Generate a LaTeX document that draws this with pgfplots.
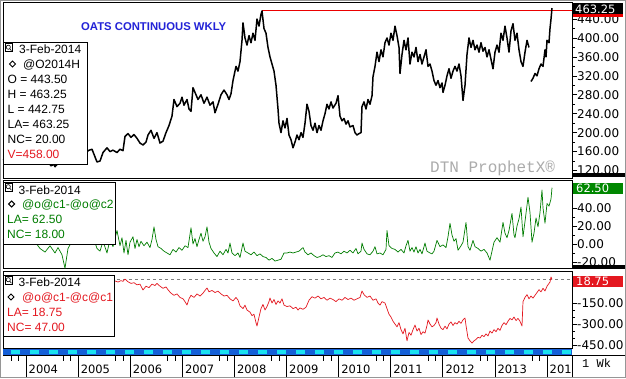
\documentclass[border=0pt]{standalone}
\usepackage{pgfplots}
\pgfplotsset{compat=1.18}
\usepackage{fontspec}
\setmainfont{Liberation Sans}
\newfontfamily\dejavu{DejaVu Sans}
\newfontfamily\mono{Liberation Mono}
\definecolor{titleblue}{RGB}{35,35,215}
\definecolor{lgreen}{RGB}{0,125,0}
\definecolor{boxgreen}{RGB}{0,135,0}
\definecolor{lred}{RGB}{228,24,32}
\definecolor{hred}{RGB}{235,0,0}
\definecolor{bandblue}{RGB}{20,95,215}
\definecolor{bandcyan}{RGB}{25,225,240}
\definecolor{framegray}{RGB}{150,150,150}
\newcommand{\px}[1]{\fontsize{#1}{#1}\selectfont}
\begin{document}
\begin{tikzpicture}[x=1pt,y=1pt]
\useasboundingbox (0,0) rectangle (626,378);
\fill[white] (0,0) rectangle (626,378);
\pgfplotsset{panel/.style={anchor=south west, at={(3pt,#1pt)}, scale only axis, width=569pt,
  xmin=-23, xmax=546, xtick=\empty, axis line style={black, line width=0.8pt},
  ytick pos=right, yticklabel pos=right, tick align=outside,
  major tick length=5pt, minor tick length=3pt, tick style={black, line width=0.6pt},
  yticklabel style={font=\dejavu\px{12}, anchor=west, inner sep=0pt},
  yticklabel={\pgfmathprintnumber[fixed,fixed zerofill,precision=2,assume math mode=true]{\tick}},
  }}
% ---------- top panel: oats continuous weekly ----------
\begin{axis}[panel=200, height=176pt, ymin=104.2, ymax=476, ytick={120,160,...,440}, minor y tick num=1]
\addplot[hred, line width=1pt] coordinates {(236,457) (546,457)};
\addplot[black, line width=1.5pt, line join=round] coordinates {
(-23,142)(-20,148)(-17,140)(-14,150)(-11,145)(-8,152)(-5,147)(-2,155)(1,150)(4,158)(7,152)(10,160)(13,148)(16,142)(19,135)(22,138)(25,130)(28,133)(29,128)(32,135)(35,140)(38,136)(41,142)(44,150)(47,145)(50,152)(53,148)(56,155)(59,150)(62,162)(66,165)(71,138)(74,140)(77,158)(81,168)(84,160)(87,163)(91,158)(94,165)(97,162)(99,192)(102,198)(105,190)(108,196)(111,188)(114,178)(117,174)(120,180)(122,195)(125,205)(128,188)(131,200)(134,178)(137,182)(140,200)(143,215)(146,235)(148,270)(151,255)(154,262)(156,275)(158,258)(161,270)(163,250)(165,245)(167,295)(169,285)(172,270)(175,280)(178,262)(181,275)(184,258)(187,265)(189,242)(192,260)(195,280)(198,290)(201,280)(203,270)(205,282)(207,310)(210,340)(212,330)(214,350)(216,395)(217,432)(219,400)(221,385)(223,405)(225,390)(227,410)(229,395)(231,440)(233,425)(235,450)(236,457)(238,420)(240,410)(242,380)(244,360)(246,345)(248,330)(250,300)(251,275)(252,250)(253,220)(255,200)(257,225)(259,210)(261,230)(263,195)(265,185)(267,168)(269,180)(271,195)(273,185)(275,200)(277,190)(279,220)(281,260)(283,245)(285,215)(287,205)(289,220)(291,200)(293,215)(295,205)(297,225)(299,240)(301,260)(303,250)(305,265)(307,252)(310,262)(312,278)(314,235)(316,225)(318,230)(320,218)(322,225)(324,212)(327,215)(329,200)(331,195)(333,198)(335,200)(336,255)(338,265)(340,250)(342,270)(344,260)(346,278)(347,318)(349,340)(351,370)(353,350)(355,375)(357,360)(359,390)(361,400)(363,385)(365,410)(367,395)(369,425)(371,405)(373,380)(374,325)(376,365)(378,395)(380,375)(382,400)(384,345)(386,370)(388,360)(390,380)(392,350)(394,365)(396,345)(398,360)(400,375)(402,340)(404,345)(406,330)(408,310)(410,300)(412,310)(414,295)(416,305)(417,285)(419,300)(421,320)(423,335)(425,315)(427,330)(429,340)(431,330)(433,345)(435,320)(437,268)(439,300)(441,365)(443,400)(445,380)(447,395)(449,375)(451,385)(453,370)(455,390)(457,372)(459,380)(461,360)(463,375)(465,355)(467,335)(469,370)(471,385)(473,370)(475,410)(477,395)(479,425)(481,400)(483,370)(485,415)(487,430)(489,395)(491,410)(493,375)(495,350)(497,340)(499,370)(501,395)(503,380)
};
\addplot[black, line width=1.5pt, line join=round] coordinates {
(505,308)(507,315)(509,325)(511,320)(513,335)(515,345)(517,340)(519,375)(520,360)(521,395)(523,390)(524,420)(525,440)(526,463.25)
};
\end{axis}
% ---------- middle panel: @o@c1-@o@c2 ----------
\begin{axis}[panel=110, height=88pt, ymin=-26.7, ymax=71.1, ytick={-20,0,20,40}, minor y tick num=1]
\addplot[lgreen, line width=0.7pt, line join=round] coordinates {
(-23,5)(-20,2)(-17,8)(-14,3)(-11,6)(-8,1)(-5,4)(-2,0)(1,7)(4,2)(7,5)(10,1)(14,-5)(19,-9)(24,-2)(29,-10)(32,-4)(36,-12)(39,-27)(42,-5)(46,3)(50,8)(54,2)(58,10)(62,4)(66,12)(71,-5)(74,-8)(77,3)(81,-10)(84,5)(87,-3)(91,15)(94,-2)(96,7)(98,-10)(100,4)(102,-12)(104,2)(107,8)(109,-5)(111,5)(113,-3)(115,3)(118,-2)(121,2)(124,-4)(126,5)(128,19)(130,5)(132,-3)(135,-5)(138,-8)(141,-10)(144,-12)(147,-6)(150,-9)(153,-4)(156,-7)(159,-2)(162,-4)(165,18)(167,0)(169,6)(171,-3)(173,5)(175,12)(177,3)(179,8)(181,19)(183,2)(185,-5)(188,-10)(191,-14)(194,-8)(197,-12)(200,-6)(202,-10)(204,1)(206,-10)(209,-13)(212,-10)(214,-15)(217,1)(219,-8)(222,-10)(225,-12)(228,-9)(231,-13)(234,-11)(237,-14)(240,-15)(243,-18)(246,-16)(249,-19)(252,-18)(255,-17)(258,-10)(261,-10)(264,-9)(267,-10)(270,-9)(273,-8)(277,-4)(279,-9)(282,-12)(285,-10)(288,-13)(291,-15)(294,-14)(297,-12)(300,-14)(303,-13)(306,-15)(309,-10)(312,-9)(315,-11)(318,-8)(321,-10)(324,-7)(327,-10)(330,-5)(332,-11)(335,-8)(336,1)(338,-6)(341,-11)(344,-12)(347,-8)(349,-3)(351,-11)(354,-10)(357,-12)(360,-6)(361,15)(363,-2)(366,-5)(369,-6)(372,-9)(375,-6)(378,-10)(380,-2)(382,4)(384,-8)(386,-4)(388,-9)(390,-3)(392,-10)(394,-6)(396,-11)(399,1)(401,-8)(404,-10)(406,-11)(408,-8)(411,4)(414,-3)(417,-1)(420,-4)(422,8)(424,23)(426,10)(428,3)(430,6)(432,-7)(435,-2)(437,2)(440,24)(442,-3)(444,-7)(447,4)(449,-3)(452,-5)(455,-8)(458,-6)(461,-10)(464,-18)(466,-8)(468,2)(471,7)(474,2)(477,24)(479,12)(481,7)(483,15)(486,34)(488,10)(489,7)(491,20)(493,28)(495,41)(497,8)(499,25)(502,52)(504,35)(506,2)(508,12)(510,29)(512,19)(514,35)(516,60)(517,40)(519,23)(521,45)(523,42)(525,50)(526,62.5)
};
\end{axis}
% ---------- bottom panel: @o@c1-@c@c1 ----------
\begin{axis}[panel=30, height=77pt, ymin=-471, ymax=78.6, ytick={-450,-300,-150}, minor y tick num=2]
\addplot[gray, dashed, line width=0.6pt] coordinates {(-23,18.75) (546,18.75)};
\addplot[lred, line width=0.7pt, line join=round] coordinates {
(-23,-60)(-18,-45)(-12,-70)(-6,-50)(0,-40)(6,-65)(12,-30)(18,-45)(24,-20)(30,-35)(36,-15)(42,-30)(48,-10)(54,-25)(60,-5)(66,-20)(72,0)(78,-12)(84,5)(89,7)(92,0)(95,10)(97,5)(99,21)(102,2)(105,-10)(108,-5)(111,-20)(114,-15)(117,-57)(120,-30)(123,-40)(126,-15)(129,-25)(131,-10)(134,-30)(137,-45)(140,-35)(142,-55)(145,-80)(148,-95)(151,-85)(154,-110)(157,-120)(159,-140)(161,-164)(163,-120)(165,-95)(168,-110)(171,-85)(174,-100)(177,-80)(179,-60)(181,-43)(183,-70)(186,-60)(189,-75)(192,-65)(195,-85)(198,-100)(201,-95)(204,-120)(207,-135)(210,-110)(212,-129)(214,-170)(217,-190)(219,-165)(221,-200)(224,-215)(226,-240)(228,-230)(230,-290)(231,-314)(233,-250)(235,-190)(237,-160)(239,-200)(241,-175)(243,-140)(244,-114)(246,-150)(248,-125)(250,-160)(252,-135)(254,-150)(256,-120)(258,-165)(261,-175)(264,-170)(267,-190)(270,-180)(272,-200)(274,-185)(277,-195)(280,-180)(283,-130)(286,-105)(289,-115)(292,-100)(295,-120)(298,-110)(301,-130)(304,-115)(307,-125)(310,-140)(313,-120)(316,-130)(319,-110)(322,-125)(325,-115)(328,-130)(331,-120)(334,-110)(336,-64)(338,-90)(341,-110)(344,-100)(347,-130)(350,-120)(352,-150)(354,-165)(356,-140)(359,-150)(361,-190)(363,-230)(365,-250)(367,-280)(369,-300)(371,-320)(373,-290)(375,-340)(377,-370)(379,-330)(381,-420)(383,-360)(385,-380)(387,-340)(389,-307)(391,-350)(393,-330)(395,-375)(397,-355)(399,-365)(401,-310)(402,-271)(404,-300)(406,-320)(408,-310)(410,-290)(411,-257)(413,-300)(415,-330)(417,-340)(419,-315)(421,-335)(423,-300)(425,-285)(427,-310)(429,-290)(431,-300)(433,-280)(435,-295)(437,-270)(439,-257)(440,-310)(442,-400)(444,-420)(446,-436)(448,-420)(450,-410)(452,-395)(454,-400)(456,-380)(458,-390)(460,-370)(462,-385)(464,-350)(466,-365)(468,-340)(470,-355)(472,-330)(474,-345)(476,-310)(478,-290)(480,-305)(482,-280)(484,-260)(486,-270)(488,-250)(490,-275)(492,-260)(494,-280)(496,-314)(497,-140)(499,-110)(501,-90)(503,-120)(505,-100)(507,-115)(509,-95)(511,-75)(513,-55)(515,-70)(517,-45)(519,-64)(521,-30)(523,-10)(524,0)(525,36)(526,18.75)
};
\end{axis}
% ---------- title and watermark ----------
\node[anchor=base west, inner sep=0, font=\bfseries\px{11.3}, text=titleblue] at (81,378-30.7) {OATS CONTINUOUS WKLY};
\node[anchor=base west, inner sep=0, font=\mono\px{16}, text=black!33] at (430,378-172.5) {DTN ProphetX®};
% ---------- legend boxes ----------
\newcommand{\magicon}[2]{\draw[black, line width=0.6pt] (#1,#2) rectangle ++(7,-8); \draw[black, line width=0.6pt] (#1+3.3,#2-3.7) circle (2.1); \draw[black, line width=0.6pt] (#1+4.8,#2-5.2) -- (#1+6.4,#2-7.2);}
\newcommand{\dmd}[2]{\draw[black, line width=1pt] (#1,#2+3) -- (#1+3,#2) -- (#1,#2-3) -- (#1-3,#2) -- cycle;}
% top
\draw[black, fill=white, line width=0.8pt] (3.3,378-42.3) rectangle (87.5,378-164);
\magicon{5}{378-43.5}
\dmd{12.5}{378-64}
\begin{scope}[every node/.style={anchor=base west, inner sep=0, font=\px{12}}]
\node at (19,378-54) {3-Feb-2014};
\node at (23,378-69) {@O2014H};
\node at (7.5,378-84) {O = 443.50};
\node at (7.5,378-99) {H = 463.25};
\node at (7.5,378-114) {L = 442.75};
\node at (7.5,378-129) {LA= 463.25};
\node at (7.5,378-144) {NC= 20.00};
\node[text=lred] at (7.5,378-159) {V=458.00};
\end{scope}
% middle
\draw[black, fill=white, line width=0.8pt] (3.3,378-182) rectangle (115,378-244.5);
\magicon{5}{378-183}
\dmd{11.7}{378-204}
\begin{scope}[every node/.style={anchor=base west, inner sep=0, font=\px{12}}]
\node at (18.5,378-194) {3-Feb-2014};
\node[text=lgreen] at (22,378-208.5) {@o@c1-@o@c2};
\node[text=lgreen] at (7,378-223) {LA= 62.50};
\node[text=lgreen] at (7,378-238) {NC= 18.00};
\end{scope}
% bottom
\draw[black, fill=white, line width=0.8pt] (3.3,378-275) rectangle (114,378-336);
\magicon{5}{378-276}
\dmd{11}{378-297}
\begin{scope}[every node/.style={anchor=base west, inner sep=0, font=\px{12}}]
\node at (18.5,378-286) {3-Feb-2014};
\node[text=lred] at (22,378-301) {@o@c1-@c@c1};
\node[text=lred] at (7,378-316) {LA= 18.75};
\node[text=lred] at (7,378-331) {NC= 47.00};
\end{scope}
% ---------- value tags ----------
\fill[black] (573,378-3) rectangle (623,378-14.5);
\fill[hred] (573,378-14.5) rectangle (623,378-17);
\node[anchor=base west, inner sep=0, font=\dejavu\px{11.5}, text=white] at (575,378-13.3) {463.25};
\fill[boxgreen] (573,378-183) rectangle (623,378-193.5);
\node[anchor=base west, inner sep=0, font=\dejavu\px{11.5}, text=white] at (576,378-192.3) {62.50};
\fill[lred] (573,378-276) rectangle (623,378-286.5);
\node[anchor=base west, inner sep=0, font=\dejavu\px{11.5}, text=white] at (576,378-285.3) {18.75};
% ---------- panel separators on the right ----------
\fill[black] (572,378-173.3) rectangle (626,378-177);
\fill[black] (572,378-265) rectangle (626,378-268.5);
% ---------- date band ----------
\fill[bandblue] (3,378-355) rectangle (572,378-349);
\foreach \i in {0,...,29} { \fill[bandcyan] ({3+19*\i+8},378-354) rectangle ({3+19*\i+17},378-350); }
\draw[black, line width=0.8pt] (3,378-355.5) -- (626,378-355.5);
\draw[black, line width=0.8pt] (572,378-355.5) -- (572,0);
\begin{scope}
\clip (3,0) rectangle (571.5,378-355.5);
\foreach \k in {0,...,10} {
  \pgfmathsetmacro{\xx}{26+52.1*\k}
  \pgfmathtruncatemacro{\yy}{2004+\k}
  \draw[black, line width=0.7pt] (\xx,378-356) -- (\xx,0);
  \draw[black, line width=0.7pt] (\xx-7.3,378-356) -- (\xx-7.3,378-361);
  \draw[black, line width=0.7pt] (\xx-14.8,378-356) -- (\xx-14.8,378-361);
  \node[anchor=base west, inner sep=0, font=\dejavu\px{11.5}] at (\xx+2.5,378-373) {\yy};
}
\end{scope}
\node[anchor=base west, inner sep=0, font=\mono\px{12}] at (582,378-367) {1 Wk};
% ---------- outer frame ----------
\draw[framegray, line width=1.2pt] (0.6,0.6) rectangle (625.4,377.4);
\end{tikzpicture}
\end{document}
